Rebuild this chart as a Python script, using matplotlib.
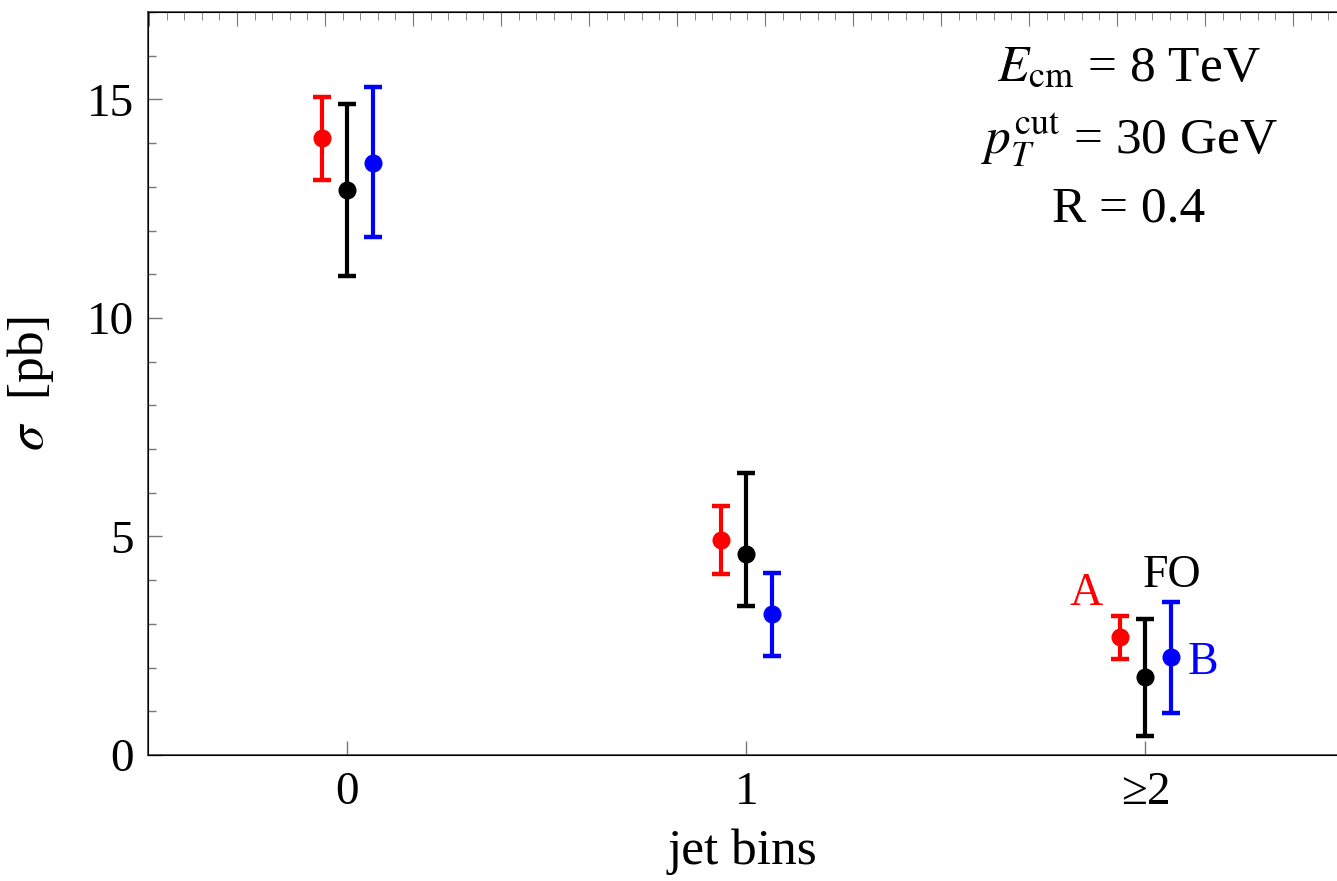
import numpy as np
import matplotlib
matplotlib.use("Agg")
import matplotlib.pyplot as plt
from matplotlib.ticker import MultipleLocator, NullLocator

plt.rcParams['font.family'] = ['Liberation Serif', 'DejaVu Serif']
plt.rcParams['mathtext.fontset'] = 'stix'

# jet bins and cross sections [pb] with asymmetric uncertainties
bins = [0, 1, 2]
bin_labels = ['0', '1', '≥2']

sig_A = [14.11, 4.92, 2.69]
up_A = [15.06, 5.70, 3.19]
lo_A = [13.16, 4.14, 2.19]

sig_FO = [12.93, 4.60, 1.79]
up_FO = [14.89, 6.46, 3.12]
lo_FO = [10.95, 3.41, 0.44]

sig_B = [13.55, 3.23, 2.25]
up_B = [15.28, 4.17, 3.51]
lo_B = [11.86, 2.27, 0.95]

series = [
    ('A', sig_A, up_A, lo_A, 'red', -0.065),
    ('FO', sig_FO, up_FO, lo_FO, 'black', 0.0),
    ('B', sig_B, up_B, lo_B, 'blue', 0.065),
]

fig = plt.figure(figsize=(13.37, 8.81), dpi=100)
ax = fig.add_axes([148 / 1337, 126 / 881, 1 - 148 / 1337, (755 - 12) / 881])

for name, sig, up, lo, col, dx in series:
    sig = np.array(sig)
    yerr = [sig - np.array(lo), np.array(up) - sig]
    ax.errorbar(np.array(bins) + dx, sig, yerr=yerr, fmt='o', color=col,
                ms=12, elinewidth=3, capsize=6.5, capthick=3.2)

# labels next to the >=2 bin
ax.text(1.85, 3.7, 'A', color='red', fontsize=33, ha='center', va='center')
ax.text(2.067, 4.1, 'FO', color='black', fontsize=33, ha='center', va='center')
ax.text(2.145, 2.1, 'B', color='blue', fontsize=33, ha='center', va='center')

ax.text(0.825, 0.955, r'$E_{\rm cm}$ = 8 TeV' + '\n' + r'$p_T^{\rm cut}$ = 30 GeV' + '\n' + 'R = 0.4',
        transform=ax.transAxes, ha='center', va='top', fontsize=37, linespacing=1.45)

ax.set_xlim(-0.5, 2.48)
ax.set_ylim(0, 17)
ax.set_xticks(bins)
ax.set_xticklabels(bin_labels)
ax.xaxis.set_minor_locator(NullLocator())
ax.set_yticks([0, 5, 10, 15])
ax.yaxis.set_minor_locator(MultipleLocator(1))
ax.tick_params(axis='both', which='both', direction='in', color='#777777', labelsize=34)
ax.tick_params(axis='both', which='major', length=10, width=1)
ax.tick_params(axis='y', which='minor', length=6, width=1)
ax.tick_params(axis='x', pad=12)
ax.tick_params(axis='y', pad=10)
ax.spines['right'].set_visible(False)
for s in ['left', 'bottom', 'top']:
    ax.spines[s].set_color('#444444')
    ax.spines[s].set_linewidth(1.2)

ax.set_xlabel('jet bins', fontsize=37, labelpad=10)
ax.set_ylabel(r'$\sigma$  [pb]', fontsize=37, labelpad=22)

# frame ticks along the top edge
top = ax.twiny()
top.set_xlim(-89 / 88, (1337 - 237) / 88)
top.xaxis.set_major_locator(MultipleLocator(1))
top.xaxis.set_minor_locator(MultipleLocator(0.2))
top.tick_params(axis='x', which='both', direction='in', color='#777777', labeltop=False)
top.tick_params(axis='x', which='major', length=10)
top.tick_params(axis='x', which='minor', length=6)
top.spines['right'].set_visible(False)

fig.savefig('out.png', dpi=100)
